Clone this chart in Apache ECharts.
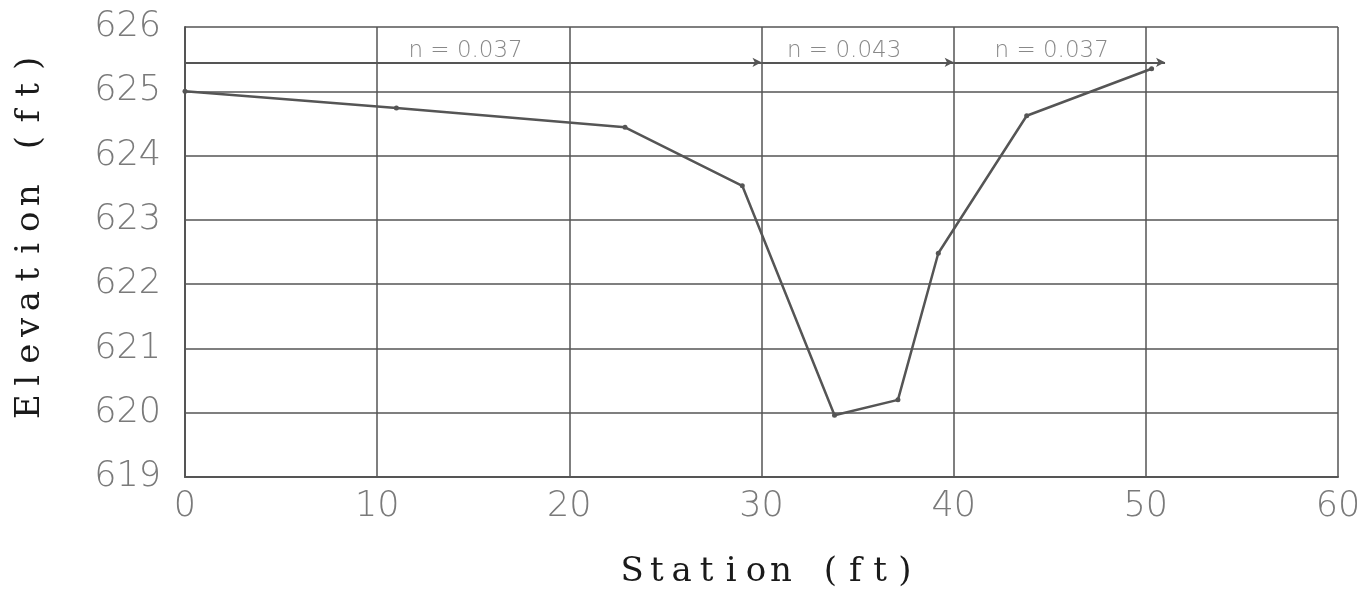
<!DOCTYPE html>
<html>
<head>
<meta charset="utf-8">
<script src="https://cdn.jsdelivr.net/npm/echarts@6/dist/echarts.min.js"></script>
<style>
  html, body { margin: 0; padding: 0; background: #fff; }
  #chart { width: 1369px; height: 607px; }
</style>
</head>
<body>
<div id="chart"></div>
<script>
// cross-section survey points
var station = [0, 11, 22.9, 29, 33.8, 37.1, 39.2, 43.8, 50.3];
var elevation = [625.0, 624.74, 624.44, 623.53, 619.96, 620.2, 622.48, 624.62, 625.35];

// manning n zones
var zoneEdges = [0, 30, 40, 51];
var zoneLineY = 625.45;
var zoneLabels = ['n = 0.037', 'n = 0.043', 'n = 0.037'];
var zoneLabelX = [14.6, 34.3, 45.1];
var zoneLabelY = 625.63;

var xTitle = 'Station (ft)';
var yTitle = 'Elevation (ft)';

var chart = echarts.init(document.getElementById('chart'));

var profile = station.map(function (s, i) { return [s, elevation[i]]; });

var zoneSegs = [];
for (var i = 0; i < zoneEdges.length - 1; i++) {
  zoneSegs.push([
    { coord: [zoneEdges[i], zoneLineY] },
    { coord: [zoneEdges[i + 1], zoneLineY] }
  ]);
}

var labelPts = zoneLabels.map(function (t, i) {
  return { value: [zoneLabelX[i], zoneLabelY], name: t };
});

// fixed-pitch lettering, like the old plotter output
function spaced(str) {
  return str.split('').map(function (c) { return '{s|' + c + '}'; }).join('');
}

function titleStyle(cellW, shift) {
  return {
    padding: [0, 0, 0, shift],
    rich: {
      s: {
        fontFamily: 'DejaVu Serif',
        fontSize: 34,
        color: '#1a1a1a',
        width: cellW,
        align: 'center'
      }
    }
  };
}

var tickFont = {
  color: '#7a7a7a',
  fontFamily: 'DejaVu Sans',
  fontWeight: 'lighter',
  fontSize: 35
};

var option = {
  backgroundColor: '#fff',
  animation: false,
  grid: { left: 185, right: 31, top: 27, bottom: 130 },
  xAxis: {
    type: 'value',
    min: 0, max: 60, interval: 10,
    name: spaced(xTitle),
    nameLocation: 'middle',
    nameGap: 78,
    nameTextStyle: titleStyle(24.8, 14),
    axisLine: { show: true, lineStyle: { color: '#555', width: 2 } },
    axisTick: { show: false },
    axisLabel: Object.assign({ margin: 12 }, tickFont),
    splitLine: { show: true, lineStyle: { color: '#555', width: 1.5 } }
  },
  yAxis: {
    type: 'value',
    min: 619, max: 626, interval: 1,
    name: spaced(yTitle),
    nameLocation: 'middle',
    nameGap: 138,
    nameTextStyle: titleStyle(26.4, 34),
    axisLine: { show: true, lineStyle: { color: '#555', width: 2 } },
    axisTick: { show: false },
    axisLabel: Object.assign({ margin: 24 }, tickFont),
    splitLine: { show: true, lineStyle: { color: '#555', width: 1.5 } }
  },
  series: [
    {
      type: 'line',
      data: profile,
      symbol: 'circle',
      symbolSize: 5,
      itemStyle: { color: '#555' },
      lineStyle: { color: '#555', width: 2.5 },
      markLine: {
        silent: true,
        symbol: ['none', 'arrow'],
        symbolSize: [7, 9],
        label: { show: false },
        lineStyle: { color: '#555', width: 2, type: 'solid' },
        data: zoneSegs
      }
    },
    {
      type: 'scatter',
      data: labelPts,
      symbolSize: 0,
      silent: true,
      label: {
        show: true,
        position: 'inside',
        formatter: function (p) { return p.name; },
        color: '#6a6a6a',
        fontFamily: 'DejaVu Sans',
        fontWeight: 'lighter',
        fontSize: 23
      }
    }
  ]
};

chart.setOption(option);
</script>
</body>
</html>
